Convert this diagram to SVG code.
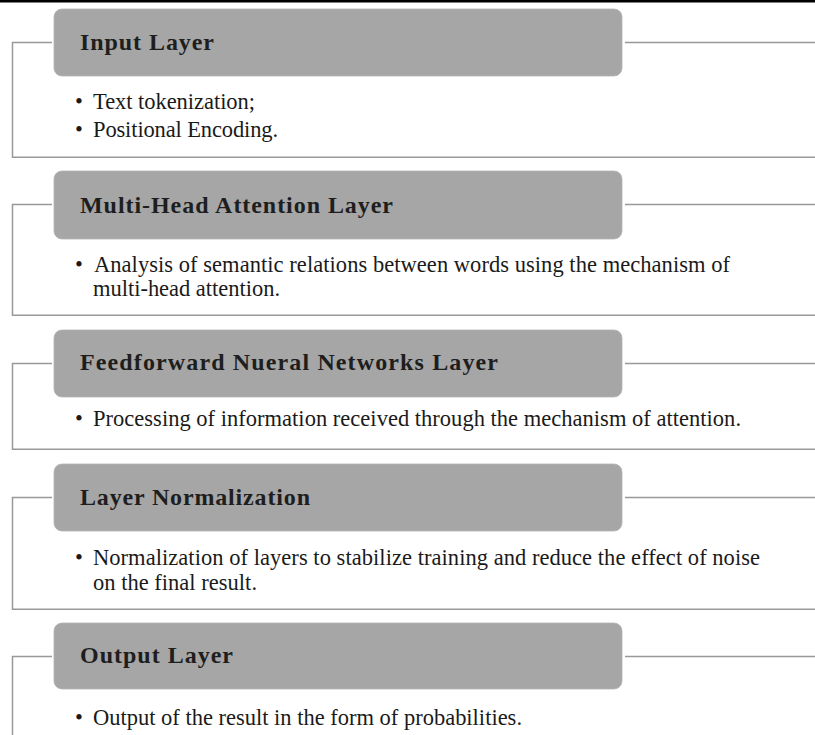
<svg xmlns="http://www.w3.org/2000/svg" width="815" height="735" viewBox="0 0 815 735">
<style>
.bg{fill:#ffffff}
.frame{fill:none;stroke:#999999;stroke-width:1.5}
.box{fill:#a6a6a6;stroke:#b4b4b4;stroke-width:0.8}
.hd{font-family:"Liberation Serif","Times New Roman",serif;font-weight:bold;font-size:24px;fill:#1e1e1e}
.tx{font-family:"Liberation Serif","Times New Roman",serif;font-size:22.5px;fill:#1a1a1a}
</style>
<rect class="bg" x="0" y="0" width="815" height="735"/>
<rect x="0" y="0" width="815" height="2.5" fill="#000000"/>
<g id="connectors">
<path class="frame" d="M52,42.5 H12.5 V157.3 H815 M625,42.5 H815"/>
<path class="frame" d="M52,204.5 H12.5 V315.3 H815 M625,204.5 H815"/>
<path class="frame" d="M52,363.5 H12.5 V449.3 H815 M625,363.5 H815"/>
<path class="frame" d="M52,497.5 H12.5 V609.3 H815 M625,497.5 H815"/>
<path class="frame" d="M52,656.5 H12.5 V740 M625,656.5 H815"/>
</g>
<g id="input-layer">
<rect class="box" x="54" y="9" width="568" height="67" rx="8"/>
<text class="hd" x="80" y="50" textLength="134" lengthAdjust="spacing">Input Layer</text>
<text class="tx" x="75" y="109">•</text>
<text class="tx" x="93" y="109" textLength="162" lengthAdjust="spacing">Text tokenization;</text>
<text class="tx" x="75" y="137">•</text>
<text class="tx" x="93" y="137" textLength="185" lengthAdjust="spacing">Positional Encoding.</text>
</g>
<g id="multi-head-attention-layer">
<rect class="box" x="54" y="171" width="568" height="68" rx="8"/>
<text class="hd" x="80" y="213" textLength="313" lengthAdjust="spacing">Multi-Head Attention Layer</text>
<text class="tx" x="75" y="272">•</text>
<text class="tx" x="94" y="272" textLength="636" lengthAdjust="spacing">Analysis of semantic relations between words using the mechanism of</text>
<text class="tx" x="93" y="296" textLength="187" lengthAdjust="spacing">multi-head attention.</text>
</g>
<g id="feedforward-layer">
<rect class="box" x="54" y="330" width="568" height="67" rx="8"/>
<text class="hd" x="80" y="370" textLength="418" lengthAdjust="spacing">Feedforward Nueral Networks Layer</text>
<text class="tx" x="75" y="426">•</text>
<text class="tx" x="93" y="426" textLength="648" lengthAdjust="spacing">Processing of information received through the mechanism of attention.</text>
</g>
<g id="layer-normalization">
<rect class="box" x="54" y="464" width="568" height="67" rx="8"/>
<text class="hd" x="80" y="505" textLength="230" lengthAdjust="spacing">Layer Normalization</text>
<text class="tx" x="75" y="565">•</text>
<text class="tx" x="93" y="565" textLength="667" lengthAdjust="spacing">Normalization of layers to stabilize training and reduce the effect of noise</text>
<text class="tx" x="93" y="590" textLength="164" lengthAdjust="spacing">on the final result.</text>
</g>
<g id="output-layer">
<rect class="box" x="54" y="623" width="568" height="66" rx="8"/>
<text class="hd" x="80" y="663" textLength="153" lengthAdjust="spacing">Output Layer</text>
<text class="tx" x="75" y="725">•</text>
<text class="tx" x="93" y="725" textLength="429" lengthAdjust="spacing">Output of the result in the form of probabilities.</text>
</g>
</svg>
